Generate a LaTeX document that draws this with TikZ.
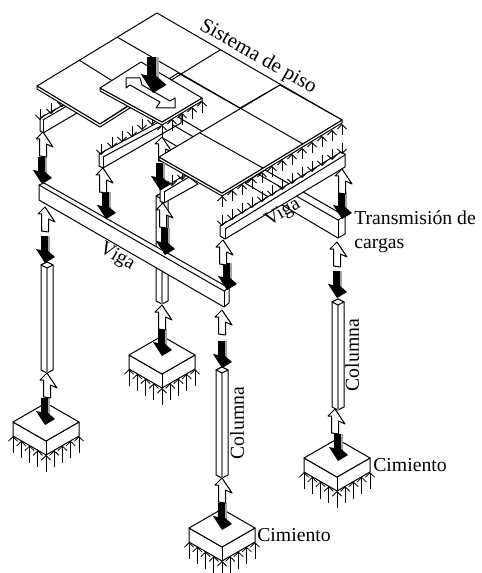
\documentclass[tikz,border=0pt]{standalone}
\usepackage{fontspec}
\setmainfont{Liberation Serif}
\usetikzlibrary{arrows.meta}
\tikzset{
  solid face/.style={draw, fill=white, line join=round, line width=0.75pt},
  edge line/.style={draw, line width=0.75pt},
  load arrow/.style={line width=0.6pt, -{Straight Barb[length=3.4pt,width=7pt]}},
  label text/.style={font=\fontsize{14.8}{18}\selectfont, inner sep=0pt},
  pics/blackarrow/.style={code={
    \fill[black] (-4.5,-27) -- (2.5,-27) -- (2.5,-8) -- (-4.5,-8) -- cycle;
    \fill[gray!70] (2.5,-27) -- (4.5,-27) -- (4.5,-8) -- (2.5,-8) -- cycle;
    \fill[black] (0,0) -- (-9,-14) -- (-4,-13) -- (-4,-17) -- (2,-13) -- (10,-6) -- cycle;
  }},
  pics/whitearrow/.style={code={
    \path[solid face] (0,0) -- (10,15) -- (3.5,12) -- (3.5,25) -- (-3.5,24) -- (-3.5,7) -- (-7,7) -- cycle;
  }},
  pics/footing/.style={code={
    \path[solid face] (-33,19) -- (0,38) -- (33,19) -- (33,33) -- (0,52) -- (-33,33) -- cycle;
    \path[solid face] (0,0) -- (33,19) -- (0,38) -- (-33,19) -- cycle;
    \draw[edge line] (0,38) -- (0,52);
    \foreach \k in {-4,...,4}
      \draw[load arrow] (\k*8.25, {52-abs(\k)*4.7+17}) -- (\k*8.25, {52-abs(\k)*4.7});
  }},
  pics/column/.style={code={
    \path[solid face] (-6,3) -- (0,0) -- (6,3) -- (6,108) -- (0,111) -- (-6,108) -- cycle;
    \draw[gray, line width=1.1pt] (0,6) -- (0,111);
    \path[solid face] (-6,3) -- (0,0) -- (6,3) -- (0,6) -- cycle;
  }}
}
\begin{document}
\begin{tikzpicture}[x=0.75pt,y=-0.75pt]
\useasboundingbox (0,0) rectangle (481,573);
% beams under the back of the floor
\path[solid face] (40,118) -- (65,104) -- (80,100) -- (77,113) -- (43,133) -- (40,131) -- cycle;
\draw[edge line] (43,120) -- (77,100);
\draw[edge line] (43,120) -- (43,133);
\foreach \xa/\ya in {40/120,51/114,62/107}
  \draw[load arrow] (\xa,\ya-11) -- (\xa,\ya);
\path[solid face] (99,154) -- (157,123) -- (181,110) -- (181,123) -- (103,168) -- (99,166) -- cycle;
\draw[edge line] (103,157) -- (161,126);
\draw[edge line] (103,157) -- (103,168);
\foreach \xa/\ya in {101/155,112/148,122/142,132/137,142/130,152/125}
  \draw[load arrow] (\xa,\ya-11) -- (\xa,\ya);
\draw[edge line] (173,125) -- (197,139);
\draw[edge line] (163,138) -- (178,147);
\draw[edge line] (178,117) -- (205,133);
\foreach \xa/\ya in {162/125,172/119,182/113,192/107,202/101}
  \draw[load arrow] (\xa,\ya+12) -- (\xa,\ya);
\pic at (162,137) {whitearrow};
% floor panels left in place
\path[solid face] (37,86) -- (157,13) -- (342,120) -- (303,144) -- (178,73) -- (100,124) -- cycle;
\draw[edge line] (117,37) -- (240,108);
\draw[edge line] (79,60) -- (138,97);
\draw[edge line] (220,50) -- (100,124);
\draw[edge line] (280,85) -- (240,108);
\path[solid face] (37,86) -- (37,89) -- (100,127) -- (130,108) -- (130,105) -- (100,124) -- cycle;
% lifted panel
\path[solid face] (100,88) -- (100,91) -- (162,125) -- (202,101) -- (202,98) -- (162,122) -- cycle;
\path[solid face] (141,62) -- (202,98) -- (162,122) -- (100,88) -- cycle;
\path[solid face] (126,78) -- (126,88) -- (130,85) -- (160,102) -- (156,108) -- (175,108) -- (175,98) -- (170,101) -- (142,85) -- (140,78) -- cycle;
\pic[scale=1.35] at (153,93) {blackarrow};
% middle column and its beam
\pic at (162,193) {column};
\path[solid face] (160,190) -- (185,175) -- (189,177) -- (198,184) -- (164,203) -- (160,201) -- cycle;
\draw[edge line] (164,192) -- (189,177);
\draw[edge line] (164,192) -- (164,203);
\foreach \xa/\ya in {172/186,182/180}
  \draw[load arrow] (\xa,\ya-11) -- (\xa,\ya);
% perpendicular beam at the right
\path[solid face] (265,170) -- (345,216) -- (345,234) -- (338,238) -- (245,183) -- cycle;
\draw[edge line] (258,174) -- (338,220) -- (345,216);
\draw[edge line] (338,220) -- (338,238);
% right panel
\path[solid face] (159,157) -- (159,160) -- (222,196) -- (342,123) -- (342,120) -- (222,193) -- cycle;
\path[solid face] (159,157) -- (280,85) -- (342,120) -- (222,193) -- cycle;
\draw[edge line] (240,108) -- (303,144);
\draw[edge line] (200,133) -- (263,168);
% beam under the right panel
\path[solid face] (220,226) -- (341,152) -- (345,154) -- (345,167) -- (225,239) -- (220,236) -- cycle;
\draw[edge line] (225,229) -- (345,155);
\draw[edge line] (225,229) -- (225,239);
\foreach \i in {0,...,12} {
  \draw[load arrow] ({222+\i*10},{196-\i*6+11}) -- ({222+\i*10},{196-\i*6});
  \draw[load arrow] ({222+\i*10},{226-\i*6-11}) -- ({222+\i*10},{226-\i*6});
}
% main beam
\path[solid face] (39,185) -- (44,183) -- (229,288) -- (229,303) -- (224,307) -- (39,200) -- cycle;
\draw[edge line] (39,185) -- (224,291) -- (229,288);
\draw[edge line] (224,291) -- (224,307);
% columns and footings
\pic at (47,262) {column};
\pic at (222,367) {column};
\pic at (338,299) {column};
\pic at (46,403) {footing};
\pic at (162,336) {footing};
\pic at (222,509) {footing};
\pic at (337,439) {footing};
% black arrows
\foreach \xa/\ya in {42/184,106/219,165/255,227/290,160/190,45/263,342/219,337/298,222/368,45/425,162/356,222/530,338/461}
  \pic at (\xa,\ya) {blackarrow};
% white arrows
\foreach \xa/\ya in {43/132,103/168,163/203,45/207,162/305,222/310,223/240,337/242,342/169,47/373,222/478,335/409}
  \pic at (\xa,\ya) {whitearrow};
% labels
\node[label text, font=\fontsize{15.6}{18}\selectfont, rotate=-29.5] (pisolabel) at (258,57) {Sistema de piso};
\node[label text, rotate=-30] (vigaleft) at (117,257) {Viga};
\node[label text, rotate=30] (vigaright) at (283,213) {Viga};
\node[label text, anchor=west, align=left] (cargaslabel) at (354,232) {Transmisión de\\cargas};
\node[label text, rotate=90] (columnaleft) at (237,423) {Columna};
\node[label text, rotate=90] (columnaright) at (352,355) {Columna};
\node[label text, anchor=west] (cimientoleft) at (257,535) {Cimiento};
\node[label text, anchor=west] (cimientoright) at (373,465) {Cimiento};
\end{tikzpicture}
\end{document}
